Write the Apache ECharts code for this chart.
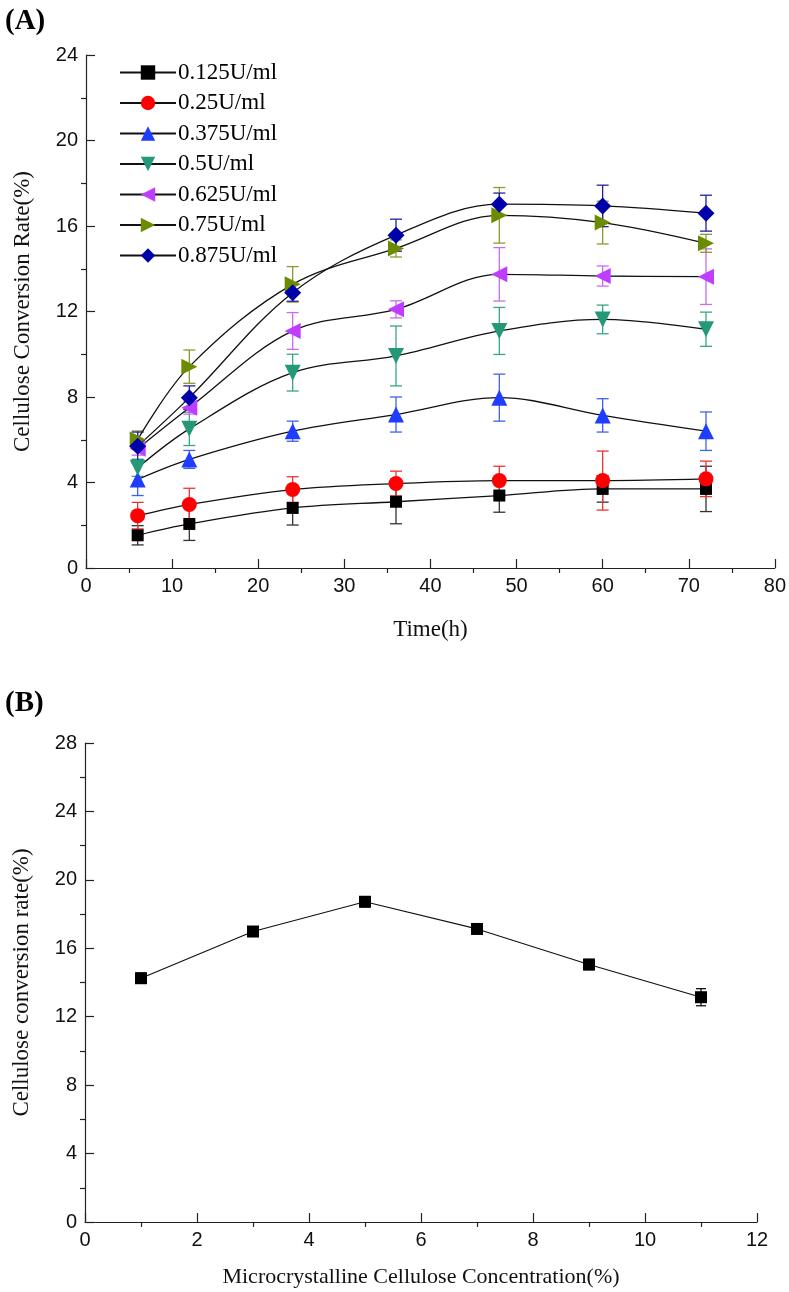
<!DOCTYPE html>
<html>
<head>
<meta charset="utf-8">
<script src="https://cdn.jsdelivr.net/npm/echarts@6/dist/echarts.min.js"></script>
<style>
html,body{margin:0;padding:0;background:#fff;}
#chart{width:789px;height:1292px;}
</style>
</head>
<body>
<div id="chart"></div>
<script>
// ---- Data: panel A ----
const times = [6, 12, 24, 36, 48, 60, 72];
const seriesNames = ['0.125U/ml', '0.25U/ml', '0.375U/ml', '0.5U/ml', '0.625U/ml', '0.75U/ml', '0.875U/ml'];
const v0125 = [1.53, 2.06, 2.81, 3.10, 3.39, 3.70, 3.70];
const e0125 = [0.45, 0.77, 0.80, 1.03, 0.78, 0.62, 1.06];
const v025  = [2.45, 2.97, 3.67, 3.95, 4.09, 4.09, 4.17];
const e025  = [0.62, 0.76, 0.60, 0.58, 0.67, 1.38, 0.83];
const v0375 = [4.14, 5.08, 6.40, 7.18, 7.97, 7.14, 6.40];
const e0375 = [0.75, 0.42, 0.47, 0.82, 1.10, 0.78, 0.90];
const v05   = [4.69, 6.51, 9.14, 9.92, 11.09, 11.63, 11.17];
const e05   = [0.40, 0.78, 0.86, 1.40, 1.10, 0.67, 0.80];
const v0625 = [5.58, 7.50, 11.09, 12.10, 13.74, 13.66, 13.63];
const e0625 = [0.30, 0.30, 0.86, 0.40, 1.25, 0.47, 1.30];
const v075  = [6.01, 9.42, 13.27, 14.95, 16.50, 16.16, 15.19];
const e075  = [0.40, 0.78, 0.83, 0.40, 1.30, 1.00, 0.42];
const v0875 = [5.70, 7.97, 12.88, 15.57, 17.02, 16.94, 16.60];
const e0875 = [0.66, 0.55, 0.40, 0.75, 0.52, 0.97, 0.84];

// ---- Data: panel B ----
const concentrations = [1, 3, 5, 7, 9, 11];
const convB = [14.25, 16.98, 18.72, 17.13, 15.05, 13.14];
const errB  = [0.30, 0.20, 0.30, 0.15, 0.30, 0.50];

// ---- Styles ----
const colors = ['#000000', '#ff0000', '#1f3dff', '#23997a', '#bf3dff', '#6b8c00', '#0000aa'];
const barColors = ['#333333', '#ee3333', '#4060f0', '#3aa585', '#c86cf0', '#8a9a30', '#2020a0'];
const symbols = ['rect', 'circle', 'triangle',
  'path://M0,0 L10,0 L5,10 Z',
  'path://M10,0 L10,10 L0,5 Z',
  'path://M0,0 L0,10 L10,5 Z',
  'diamond'];
const symSizes = [12, 15, 16, 16, 16, 16, 17];
const valsA = [v0125, v025, v0375, v05, v0625, v075, v0875];
const errsA = [e0125, e025, e0375, e05, e0625, e075, e0875];

const tickFont = {fontFamily: '"Liberation Sans Narrow","Liberation Sans",Arial,sans-serif', fontSize: 20, color: '#111'};
const serif = '"Liberation Serif","Times New Roman",serif';

function errRender(color, cap) {
  return function (params, api) {
    const x = api.value(0), y = api.value(1), e = api.value(2);
    const top = api.coord([x, y + e]);
    const bot = api.coord([x, y - e]);
    const st = {stroke: color, lineWidth: 1.3};
    return {
      type: 'group',
      children: [
        {type: 'line', shape: {x1: top[0], y1: top[1], x2: bot[0], y2: bot[1]}, style: st},
        {type: 'line', shape: {x1: top[0] - cap, y1: top[1], x2: top[0] + cap, y2: top[1]}, style: st},
        {type: 'line', shape: {x1: bot[0] - cap, y1: bot[1], x2: bot[0] + cap, y2: bot[1]}, style: st}
      ]
    };
  };
}

function axisCommon() {
  return {
    axisLine: {show: true, lineStyle: {color: '#222', width: 1.2}},
    axisTick: {show: true, inside: true, length: 9, lineStyle: {color: '#222', width: 1.2}},
    minorTick: {show: true, splitNumber: 2, length: -5, lineStyle: {color: '#222', width: 1.2}},
    splitLine: {show: false},
    axisLabel: Object.assign({margin: 8}, tickFont)
  };
}

const series = [];
valsA.forEach((vals, i) => {
  series.push({
    name: seriesNames[i] + ' err',
    type: 'custom',
    xAxisIndex: 0, yAxisIndex: 0,
    z: 2,
    renderItem: errRender(barColors[i], 6),
    encode: {x: 0, y: 1},
    data: times.map((t, k) => [t, vals[k], errsA[i][k]]),
    silent: true
  });
});
valsA.forEach((vals, i) => {
  series.push({
    name: seriesNames[i],
    type: 'line',
    xAxisIndex: 0, yAxisIndex: 0,
    z: 3,
    smooth: 0.35,
    symbol: symbols[i],
    symbolSize: symSizes[i],
    showAllSymbol: true,
    lineStyle: {color: '#111', width: 1.3},
    itemStyle: {color: colors[i]},
    data: times.map((t, k) => [t, vals[k]]),
    animation: false
  });
});
series.push({
  name: 'B err',
  type: 'custom',
  xAxisIndex: 1, yAxisIndex: 1,
  z: 2,
  renderItem: errRender('#111', 5),
  encode: {x: 0, y: 1},
  data: concentrations.map((c, k) => [c, convB[k], errB[k]]),
  silent: true
});
series.push({
  name: 'B',
  type: 'line',
  xAxisIndex: 1, yAxisIndex: 1,
  z: 3,
  symbol: 'rect',
  symbolSize: 12,
  lineStyle: {color: '#111', width: 1.2},
  itemStyle: {color: '#000'},
  data: concentrations.map((c, k) => [c, convB[k]]),
  animation: false
});

const option = {
  animation: false,
  backgroundColor: '#fff',
  title: [
    {text: '(A)', left: 0, top: 2, textStyle: {fontFamily: serif, fontWeight: 'bold', fontSize: 29, color: '#000'}},
    {text: '(B)', left: 0, top: 684, textStyle: {fontFamily: serif, fontWeight: 'bold', fontSize: 29, color: '#000'}}
  ],
  legend: {
    data: seriesNames,
    orient: 'vertical',
    left: 114,
    top: 56,
    itemWidth: 56,
    itemHeight: 18,
    itemGap: 7.5,
    textStyle: {fontFamily: serif, fontSize: 23, color: '#000', lineHeight: 23, padding: [0, 0, 0, -3]},
    selectedMode: false
  },
  grid: [
    {left: 86, top: 55, right: 14, bottom: 724, containLabel: false},
    {left: 85, top: 743, right: 32, bottom: 70, containLabel: false}
  ],
  xAxis: [
    Object.assign(axisCommon(), {
      type: 'value', gridIndex: 0, min: 0, max: 80, interval: 10,
      name: 'Time(h)', nameLocation: 'middle', nameGap: 50,
      nameTextStyle: {fontFamily: serif, fontSize: 23, color: '#111'}
    }),
    Object.assign(axisCommon(), {
      type: 'value', gridIndex: 1, min: 0, max: 12, interval: 2,
      name: 'Microcrystalline Cellulose Concentration(%)', nameLocation: 'middle', nameGap: 44,
      nameTextStyle: {fontFamily: serif, fontSize: 22, color: '#111'}
    })
  ],
  yAxis: [
    Object.assign(axisCommon(), {
      type: 'value', gridIndex: 0, min: 0, max: 24, interval: 4,
      name: 'Cellulose Conversion Rate(%)', nameLocation: 'middle', nameGap: 52,
      nameTextStyle: {fontFamily: serif, fontSize: 23, color: '#111'}
    }),
    Object.assign(axisCommon(), {
      type: 'value', gridIndex: 1, min: 0, max: 28, interval: 4,
      name: 'Cellulose conversion rate(%)', nameLocation: 'middle', nameGap: 52,
      nameTextStyle: {fontFamily: serif, fontSize: 23, color: '#111'}
    })
  ],
  series: series
};

const chart = echarts.init(document.getElementById('chart'), null, {renderer: 'canvas'});
chart.setOption(option);
</script>
</body>
</html>
